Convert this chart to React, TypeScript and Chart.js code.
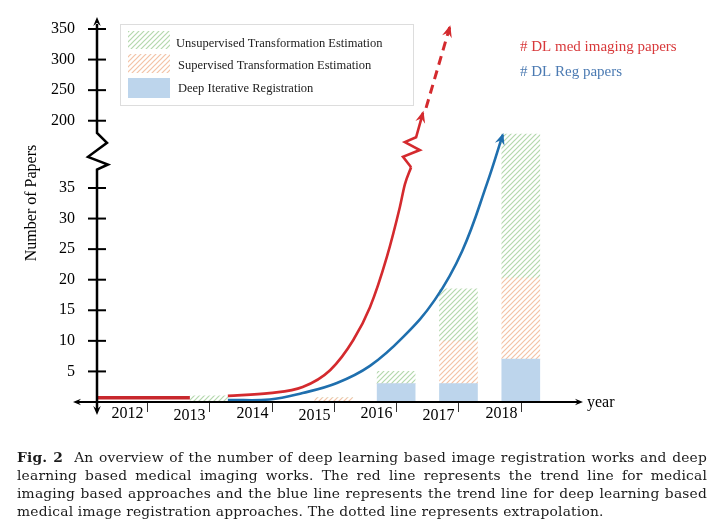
import { useEffect, useRef } from 'react';
import { Chart, registerables } from 'chart.js';

Chart.register(...registerables);

const years = [2012, 2013, 2014, 2015, 2016, 2017, 2018];
const deepIterative = [0, 0, 0, 0, 3, 3, 7];
const supervised = [0, 0, 0, 0.7, 0, 7, 13.3];
const unsupervised = [0, 1, 0, 0, 2, 8.5, 23.5];

// y ticks below and above the axis break; above the break 50 papers take the room of 5
const lowerTicks = [5, 10, 15, 20, 25, 30, 35];
const upperTicks = [200, 250, 300, 350];
const breakFrom = 38;
const breakTo = 44;
const upperAt = (v: number) => 46 + (v - 200) / 10;

// trend lines as [year, value on the drawn axis]
const redFlat = [[2011.2, 0.7], [2012.69, 0.7]];
const redCurve = [
  [2013.3, 1.0], [2013.97, 1.45], [2014.5, 2.45], [2014.94, 5.2], [2015.31, 10.1],
  [2015.58, 15.5], [2015.85, 23.7], [2016.06, 31.9], [2016.14, 35.6], [2016.24, 38.4],
];
const redBreak = [[2016.24, 38.4], [2016.11, 40.1], [2016.38, 41.2], [2016.14, 42.5], [2016.32, 43.3], [2016.43, 47.3]];
const redExtrapolated = [[2016.48, 48.1], [2016.86, 61.3]];
const blueCurve = [
  [2013.3, 0.33], [2013.97, 0.4], [2014.5, 1.47], [2015.05, 3.1], [2015.58, 5.9],
  [2016.11, 10.6], [2016.62, 16.7], [2017.06, 24.7], [2017.46, 35.8], [2017.71, 43.7],
];

const RED = '#d42a2e';
const BLUE = '#1f6fae';
const SERIF = '"Liberation Serif", "Times New Roman", serif';

function hatch(ctx: CanvasRenderingContext2D, color: string) {
  const c = document.createElement('canvas');
  c.width = 5;
  c.height = 5;
  const g = c.getContext('2d')!;
  g.strokeStyle = color;
  g.lineWidth = 1.2;
  g.beginPath();
  g.moveTo(-1, 6);
  g.lineTo(6, -1);
  g.moveTo(-3, 3);
  g.lineTo(3, -3);
  g.moveTo(2, 8);
  g.lineTo(8, 2);
  g.stroke();
  return ctx.createPattern(c, 'repeat')!;
}

function arrowHead(ctx: CanvasRenderingContext2D, fx: number, fy: number, tx: number, ty: number, color: string, size = 11) {
  const a = Math.atan2(ty - fy, tx - fx);
  const cos = Math.cos(a);
  const sin = Math.sin(a);
  const px = tx + 2 * cos;
  const py = ty + 2 * sin;
  ctx.save();
  ctx.fillStyle = color;
  ctx.beginPath();
  ctx.moveTo(px, py);
  ctx.lineTo(px - size * cos + size * 0.42 * sin, py - size * sin - size * 0.42 * cos);
  ctx.lineTo(px - size * 0.65 * cos, py - size * 0.65 * sin);
  ctx.lineTo(px - size * cos - size * 0.42 * sin, py - size * sin + size * 0.42 * cos);
  ctx.closePath();
  ctx.fill();
  ctx.restore();
}

const figurePlugin = {
  id: 'figure',
  afterDatasetsDraw(chart: any) {
    const { ctx } = chart;
    const x = chart.scales.x;
    const y = chart.scales.y;
    const ax = x.left;
    const zero = y.getPixelForValue(0);

    // arrows at the ends of the trend lines
    chart.data.datasets.forEach((ds: any, i: number) => {
      if (!ds.arrow) return;
      const pts = chart.getDatasetMeta(i).data;
      const a = pts[pts.length - 2];
      const b = pts[pts.length - 1];
      arrowHead(ctx, a.x, a.y, b.x, b.y, ds.borderColor, 12);
    });

    ctx.save();
    ctx.strokeStyle = '#000';
    ctx.fillStyle = '#000';

    // x axis
    ctx.lineWidth = 2;
    ctx.beginPath();
    ctx.moveTo(ax - 20, zero);
    ctx.lineTo(x.right, zero);
    ctx.stroke();
    arrowHead(ctx, ax, zero, ax - 22, zero, '#000', 8);
    arrowHead(ctx, ax, zero, x.right + 1, zero, '#000', 8);

    ctx.font = `16px ${SERIF}`;
    ctx.textAlign = 'center';
    ctx.textBaseline = 'middle';
    ctx.lineWidth = 1;
    ctx.strokeStyle = '#333';
    years.forEach((yr, i) => {
      const px = Math.round(x.getPixelForValue(yr)) + 0.5;
      ctx.beginPath();
      ctx.moveTo(px, zero + 1);
      ctx.lineTo(px, zero + 10);
      ctx.stroke();
      ctx.fillText(String(yr), px - 20, zero + 12 + (i % 2) * 2);
    });
    ctx.textAlign = 'left';
    ctx.fillText('year', x.right + 7, zero + 1);

    // y axis with the break
    ctx.strokeStyle = '#000';
    ctx.lineWidth = 2.5;
    const b1 = y.getPixelForValue(breakFrom);
    const b2 = y.getPixelForValue(breakTo);
    const h = b1 - b2;
    ctx.beginPath();
    ctx.moveTo(ax, zero + 8);
    ctx.lineTo(ax, b1);
    ctx.lineTo(ax + 11, b1 - h * 0.14);
    ctx.lineTo(ax - 9, b1 - h * 0.35);
    ctx.lineTo(ax + 10, b1 - h * 0.73);
    ctx.lineTo(ax, b2);
    ctx.lineTo(ax, y.top + 6);
    ctx.stroke();
    arrowHead(ctx, ax, y.top + 20, ax, y.top + 1, '#000', 9);
    arrowHead(ctx, ax, zero, ax, zero + 11, '#000', 9);

    ctx.lineWidth = 2;
    ctx.textAlign = 'right';
    const yTicks = [...lowerTicks.map((v) => [v, v]), ...upperTicks.map((v) => [upperAt(v), v])];
    yTicks.forEach(([pos, label]) => {
      const py = y.getPixelForValue(pos);
      ctx.beginPath();
      ctx.moveTo(ax - 9, py);
      ctx.lineTo(ax + 9, py);
      ctx.stroke();
      ctx.fillText(String(label), ax - 22, py);
    });

    ctx.save();
    ctx.translate(32, 203);
    ctx.rotate(-Math.PI / 2);
    ctx.textAlign = 'center';
    ctx.fillText('Number of Papers', 0, 0);
    ctx.restore();

    // legend for the bars
    ctx.lineWidth = 1;
    ctx.strokeStyle = '#dddddd';
    ctx.strokeRect(120.5, 24.5, 293, 81);
    ctx.font = `12.5px ${SERIF}`;
    ctx.textAlign = 'left';
    const rows = [
      { ds: 2, top: 31, h: 18, tx: 176, ty: 44 },
      { ds: 1, top: 54, h: 19, tx: 178, ty: 66 },
      { ds: 0, top: 78, h: 20, tx: 178, ty: 89 },
    ];
    rows.forEach((r) => {
      const ds = chart.data.datasets[r.ds];
      ctx.fillStyle = ds.backgroundColor;
      ctx.fillRect(128, r.top, 42, r.h);
      ctx.fillStyle = '#222';
      ctx.fillText(ds.label, r.tx, r.ty);
    });

    // legend for the trend lines
    ctx.font = `15px ${SERIF}`;
    chart.data.datasets.forEach((ds: any) => {
      if (!ds.legendY) return;
      ctx.fillStyle = ds.legendColor;
      ctx.fillText(ds.label, 520, ds.legendY);
    });
    ctx.restore();
  },
};

const toPoints = (arr: number[][]) => arr.map(([px, py]) => ({ x: px, y: py }));

export default function App() {
  const canvasRef = useRef<HTMLCanvasElement>(null);

  useEffect(() => {
    document.body.style.margin = '0';
    const canvas = canvasRef.current;
    if (!canvas) return;
    const ctx = canvas.getContext('2d');
    if (!ctx) return;

    const bar = (label: string, values: number[], color: any) => ({
      type: 'bar' as const,
      label,
      data: years.map((yr, i) => ({ x: yr, y: values[i] })),
      backgroundColor: color,
      borderWidth: 0,
      barThickness: 38,
      stack: 'papers',
      order: 1,
    });
    const line = (label: string, pts: number[][], color: string, extra: any = {}) => ({
      type: 'line' as const,
      label,
      data: toPoints(pts),
      borderColor: color,
      borderWidth: 2.6,
      pointRadius: 0,
      fill: false,
      order: 0,
      ...extra,
    });

    const chart = new Chart(ctx, {
      type: 'bar',
      data: {
        datasets: [
          bar('Deep Iterative Registration', deepIterative, '#bdd5ec'),
          bar('Supervised Transformation Estimation', supervised, hatch(ctx, '#f3c3a6')),
          bar('Unsupervised Transformation Estimation', unsupervised, hatch(ctx, '#b4d8ad')),
          line('', redFlat, '#c8282d', { borderWidth: 3.5 }),
          line('# DL med imaging papers', redCurve, RED, { cubicInterpolationMode: 'monotone', legendY: 47, legendColor: '#d8383a' }),
          line('', redBreak, RED, { tension: 0, arrow: true }),
          line('', redExtrapolated, RED, { borderWidth: 3, borderDash: [9, 6], arrow: true }),
          line('# DL Reg papers', blueCurve, BLUE, { tension: 0.4, arrow: true, legendY: 72, legendColor: '#4b7ab2' }),
        ] as any,
      },
      options: {
        animation: false,
        responsive: true,
        maintainAspectRatio: false,
        events: [],
        layout: { padding: { left: 97, right: 140, top: 18, bottom: 117 } },
        scales: {
          x: { type: 'linear', min: 2011.2, max: 2018.95, offset: false, display: false },
          y: { type: 'linear', min: 0, max: 62.8, display: false },
        },
        plugins: {
          legend: { display: false },
          tooltip: { enabled: false },
        },
      },
      plugins: [figurePlugin],
    });

    return () => chart.destroy();
  }, []);

  const lineStyle = { textAlign: 'justify' as const, textAlignLast: 'justify' as const, height: 18 };

  return (
    <div style={{ position: 'relative', width: 720, height: 519, background: '#fff' }}>
      <canvas ref={canvasRef} />
      <div
        style={{
          position: 'absolute',
          left: 17,
          top: 448,
          width: 690,
          fontFamily: '"DejaVu Serif", serif',
          fontSize: 13.8,
          letterSpacing: 0.2,
          lineHeight: '18px',
          color: '#1a1a1a',
        }}
      >
        <div style={lineStyle}>
          <b>Fig. 2</b>&nbsp; An overview of the number of deep learning based image registration works and deep
        </div>
        <div style={lineStyle}>
          learning based medical imaging works. The red line represents the trend line for medical
        </div>
        <div style={lineStyle}>
          imaging based approaches and the blue line represents the trend line for deep learning based
        </div>
        <div style={{ height: 18 }}>
          medical image registration approaches. The dotted line represents extrapolation.
        </div>
      </div>
    </div>
  );
}
